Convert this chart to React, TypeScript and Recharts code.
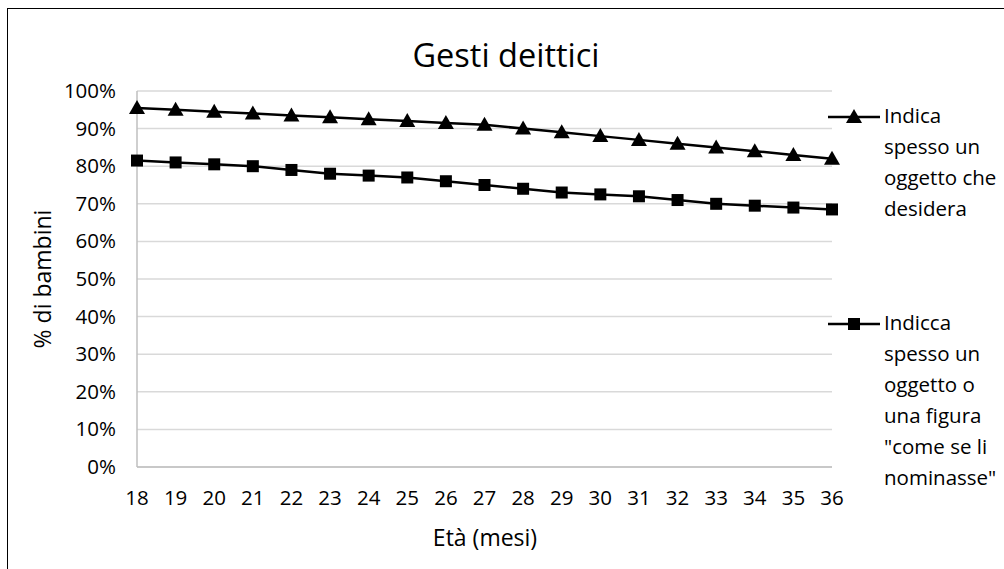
import React from 'react'
import { LineChart, Line, XAxis, YAxis, CartesianGrid, Legend } from 'recharts'

const ages = [18, 19, 20, 21, 22, 23, 24, 25, 26, 27, 28, 29, 30, 31, 32, 33, 34, 35, 36]
const indica = [95.5, 95, 94.5, 94, 93.5, 93, 92.5, 92, 91.5, 91, 90, 89, 88, 87, 86, 85, 84, 83, 82]
const indicca = [81.5, 81, 80.5, 80, 79, 78, 77.5, 77, 76, 75, 74, 73, 72.5, 72, 71, 70, 69.5, 69, 68.5]
const yTicks = [0, 10, 20, 30, 40, 50, 60, 70, 80, 90, 100]

const seriesNames = [
  'Indica spesso un oggetto che desidera',
  'Indicca spesso un oggetto o una figura "come se li nominasse"',
]
const legendLines = [
  ['Indica', 'spesso un', 'oggetto che', 'desidera'],
  ['Indicca', 'spesso un', 'oggetto o', 'una figura', '"come se li', 'nominasse"'],
]

const FONT = '"Open Sans", sans-serif'

const data = ages.map((age, i) => ({ age, indica: indica[i], indicca: indicca[i] }))

const Triangle = (props: any) => {
  const { cx, cy, index } = props
  if (cx == null || cy == null) return null
  return <path key={`t-${index}`} d={`M${cx},${cy - 8} L${cx + 8},${cy + 6} L${cx - 8},${cy + 6} Z`} fill="#000" />
}

const Square = (props: any) => {
  const { cx, cy, index } = props
  if (cx == null || cy == null) return null
  return <rect key={`s-${index}`} x={cx - 6} y={cy - 6} width={12} height={12} fill="#000" />
}

const YTick = ({ x, y, payload }: any) => (
  <text x={x - 13} y={y} dy={7} textAnchor="end" fontSize={20.5} fill="#000" fontFamily={FONT}>
    {`${payload.value}%`}
  </text>
)

const XTick = ({ x, y, payload }: any) => (
  <text x={x} y={y} dy={30} textAnchor="middle" fontSize={20.5} fill="#000" fontFamily={FONT}>
    {payload.value}
  </text>
)

const LegendBox = () => (
  <div style={{ fontFamily: FONT, fontSize: 20.5, color: '#000' }}>
    {legendLines.map((lines, k) => (
      <div key={k} style={{ position: 'absolute', left: 0, top: k === 0 ? 0 : 207, width: 180 }}>
        <svg width={54} height={20} style={{ position: 'absolute', left: 0, top: -3 }}>
          <line x1={0} y1={10} x2={52} y2={10} stroke="#000" strokeWidth={2.5} />
          {k === 0
            ? <path d="M26,2 L34,16 L18,16 Z" fill="#000" />
            : <rect x={20} y={4} width={12} height={12} fill="#000" />}
        </svg>
        {lines.map((t, j) => (
          <div key={j} style={{ position: 'absolute', left: 56, top: j * 31 - 7, whiteSpace: 'nowrap', lineHeight: '24px' }}>{t}</div>
        ))}
      </div>
    ))}
  </div>
)

export default function App() {
  return (
    <div style={{ position: 'absolute', left: 7, top: 8, width: 1000, height: 565, border: '1px solid #000', background: '#fff', fontFamily: FONT }}>
      <div style={{ position: 'absolute', left: 0, width: 996, top: 23, textAlign: 'center', fontSize: 32.5, color: '#000' }}>
        Gesti deittici
      </div>
      <div style={{ position: 'absolute', left: 34, top: 270, transform: 'translate(-50%, -50%) rotate(-90deg)', fontSize: 23, whiteSpace: 'nowrap', color: '#000' }}>
        % di bambini
      </div>
      <div style={{ position: 'absolute', left: 0, width: 954, top: 512, textAlign: 'center', fontSize: 23, color: '#000' }}>
        Età (mesi)
      </div>
      <LineChart width={1000} height={565} data={data} margin={{ top: 82, right: 176, bottom: 67, left: 69 }}>
        <CartesianGrid vertical={false} stroke="#d9d9d9" strokeWidth={1.5} />
        <XAxis dataKey="age" height={40} axisLine={{ stroke: '#bfbfbf', strokeWidth: 1.5 }} tickLine={false} tick={<XTick />} interval={0} />
        <YAxis width={60} domain={[0, 100]} ticks={yTicks} axisLine={{ stroke: '#bfbfbf', strokeWidth: 1.5 }} tickLine={false} tick={<YTick />} />
        <Legend content={<LegendBox />} wrapperStyle={{ position: 'absolute', left: 820, top: 101, width: 180 }} />
        <Line dataKey="indica" name={seriesNames[0]} stroke="#000" strokeWidth={2.5} dot={<Triangle />} isAnimationActive={false} />
        <Line dataKey="indicca" name={seriesNames[1]} stroke="#000" strokeWidth={2.5} dot={<Square />} isAnimationActive={false} />
      </LineChart>
    </div>
  )
}
